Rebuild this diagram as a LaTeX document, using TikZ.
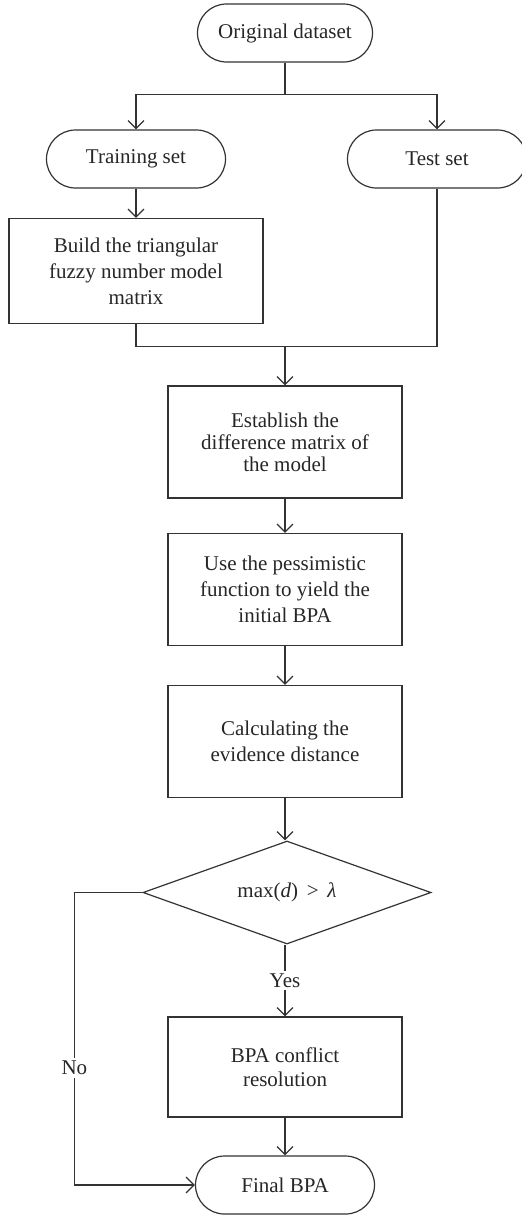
\documentclass[tikz,border=0pt]{standalone}
\usepackage{fontspec}
\setmainfont{Liberation Serif}
\usepackage{tikz}
\usetikzlibrary{positioning, shapes.geometric, arrows.meta}
\tikzset{
    every node/.style={font=\fontsize{10.5}{13}\selectfont, text=black!85}, % text look
    >={Straight Barb[length=4pt, width=8pt]}, % open arrow heads
    term/.style={draw, rounded corners=14.5pt, minimum width=89.5pt, minimum height=29pt}, % start and end
    box/.style={draw, align=center, minimum width=117pt, minimum height=56pt}, % process steps
    test/.style={draw, diamond, aspect=2.8, inner sep=0pt, minimum width=144pt, minimum height=51.5pt}, % decision
    tag/.style={fill=white, inner sep=1.5pt}, % edge labels
}
\begin{document}
\begin{tikzpicture}[color=black!80, line width=0.6pt]
                  \useasboundingbox (0,0) rectangle (260.5pt,-607.5pt);
                  \node[term, minimum width=87.5pt] (orig) at (142.5pt,-16.5pt) {Original dataset};
                  \node[term, below of=orig, node distance=63pt, xshift=-74.5pt] (train) {Training set};
                  \node[term, below of=orig, node distance=63pt, xshift=76pt] (tst) {Test set};
                  \node[box, below of=train, node distance=56pt, minimum width=127pt, minimum height=52.5pt] (build) {Build the triangular\\fuzzy number model\\matrix};
                  \node[box, below of=orig, node distance=204.5pt, font=\fontsize{10.5}{11}\selectfont] (estab) {Establish the\\difference matrix of\\the model};
                  \node[box, below of=estab, node distance=73.75pt] (use) {Use the pessimistic\\function to yield the\\initial BPA};
                  \node[box, below of=use, node distance=76pt] (calc) {Calculating the\\evidence distance};
                  \node[test, below of=calc, node distance=75.5pt, xshift=1pt] (dec) {max(\textit{d}) \,>\, \textit{λ}};
                  \node[box, below of=calc, node distance=162.75pt, minimum height=50pt, font=\fontsize{10.5}{11.7}\selectfont] (bpa) {BPA conflict\\resolution};
                  \node[term, below of=bpa, node distance=59pt] (final) {Final BPA};
                  \coordinate[below=16pt of orig] (split);
                  \coordinate[above=19.5pt of estab] (merge);
                  \draw (orig) -- (split);
                  \draw[->] (split) -| (train);
                  \draw[->] (split) -| (tst);
                  \draw[->] (train) -- (build);
                  \draw (build) |- (merge);
                  \draw (tst) |- (merge);
                  \draw[->] (merge) -- (estab);
                  \draw[->] (estab) -- (use);
                  \draw[->] (use) -- (calc);
                  \draw[->] (calc) -- (calc |- dec.north);
                  \draw[->] (dec.south -| bpa) -- node[tag]{Yes} (bpa);
                  \draw[->] (bpa) -- (final);
                  \draw[->] (dec.west) -- ++(-34pt,0) |- node[tag, pos=0.3]{No} (final.west);
              \end{tikzpicture}
\end{document}
